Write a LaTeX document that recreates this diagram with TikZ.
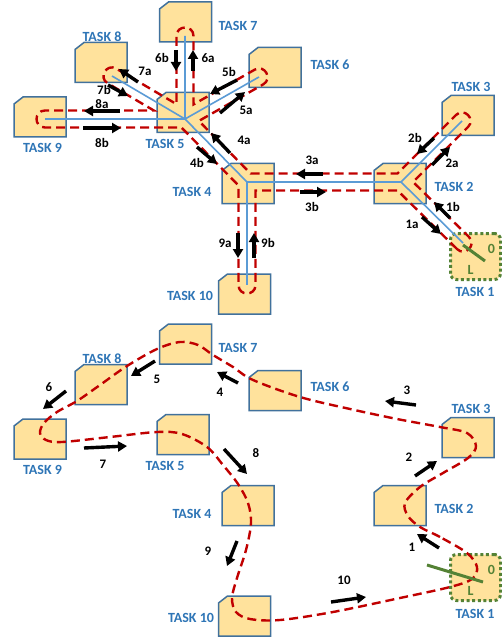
\documentclass[tikz,border=0pt]{standalone}
\usepackage{fontspec}
\setmainfont{Carlito}
\usetikzlibrary{calc,arrows.meta}
\definecolor{boxfill}{HTML}{FFE29C}
\definecolor{boxline}{HTML}{41719C}
\definecolor{lblue}{HTML}{2E75B6}
\definecolor{dred}{HTML}{C00000}
\definecolor{treeblue}{HTML}{5B9BD5}
\definecolor{sgreen}{HTML}{548235}
\def\rd{8.5pt}
\newcommand\taskbx[3]{%
  \node[tnode] (#1) at (#2,#3) {};
  \draw[tframe] ([yshift=-7pt]#1.north west) -- ([xshift=9pt]#1.north west) -- (#1.north east) -- (#1.south east) -- (#1.south west) -- cycle;}
\newcommand\mkoff[2]{%
  \coordinate (#1#2s) at ($(#1)!\rd!90:(#2)$);
  \coordinate (#1#2t) at ($(#2)!\rd!-90:(#1)$);}
\newcommand\mkcorner[3]{%
  \coordinate (c#1#2#3) at (intersection cs: first line={(#1#2s)--(#1#2t)}, second line={(#2#3s)--(#2#3t)});}
\newcommand\mkuturn[2]{%
  \coordinate (x#2) at ($(#2)!-11.3pt!(#1)$);
  \coordinate (u#2a) at ($(#1#2t)+(x#2)-(#2)$);
  \coordinate (u#2b) at ($(#2#1s)+(x#2)-(#2)$);}
\begin{document}
\begin{tikzpicture}[x=1pt,y=-1pt,
  tnode/.style={rectangle,minimum width=52pt,minimum height=40pt,inner sep=0pt,outer sep=0pt},
  tframe/.style={draw=boxline,fill=boxfill,line width=1.5pt,line join=miter},
  t1box/.style={rectangle,draw=sgreen,fill=boxfill,rounded corners=6pt,line width=3pt,dash pattern=on 3pt off 2.6pt,minimum width=50pt,minimum height=46pt,inner sep=0pt},
  tlabel/.style={text=lblue,font=\bfseries\fontsize{14}{14}\selectfont,inner sep=0pt},
  alabel/.style={text=black,font=\bfseries\fontsize{13}{13}\selectfont,inner sep=0pt},
  glabel/.style={text=sgreen,font=\bfseries\fontsize{14}{14}\selectfont,inner sep=0pt},
  redloop/.style={draw=dred,line width=2.4pt,dash pattern=on 9pt off 5pt},
  treeline/.style={draw=treeblue,line width=1.6pt},
  switchline/.style={draw=sgreen,line width=3pt},
  bigarrow/.style={draw=black,line width=3.4pt,-{Triangle[length=9pt,width=10pt]}}]
\useasboundingbox (0,0) rectangle (502,639);
% ---------------- top diagram ----------------
\taskbx{t7}{185.5}{22}
\taskbx{t8}{101}{62.5}
\taskbx{t9}{40}{117}
\taskbx{t5}{183}{112.5}
\taskbx{t6}{275}{67.5}
\taskbx{t4}{248}{183.5}
\taskbx{t2}{400}{183.5}
\taskbx{t3}{468}{115.5}
\taskbx{t10}{244.5}{294}
\node[t1box] (t1) at (475.5,256.5) {};
\node[tlabel] (lt7) at (238,26) {TASK 7};
\node[tlabel] (lt8) at (102,37) {TASK 8};
\node[tlabel] (lt9) at (42.5,148) {TASK 9};
\node[tlabel] (lt5) at (165,144) {TASK 5};
\node[tlabel] (lt6) at (330,64.5) {TASK 6};
\node[tlabel] (lt4) at (192,192) {TASK 4};
\node[tlabel] (lt2) at (454,186.5) {TASK 2};
\node[tlabel] (lt3) at (471,87) {TASK 3};
\node[tlabel] (lt10) at (190,296) {TASK 10};
\node[tlabel] (lt1) at (475,292) {TASK 1};
% tree
\coordinate (h5) at (185,119);
\coordinate (e9) at (45,119);
\coordinate (e8) at (112,76);
\coordinate (e7) at (185,36);
\coordinate (e6) at (259,77);
\coordinate (h4) at (247,182);
\coordinate (e10) at (247,285);
\coordinate (h2) at (401,182);
\coordinate (e3) at (462,121);
\coordinate (e1) at (463,243);
\mkoff{e1}{h2}\mkoff{h2}{h4}\mkoff{h4}{e10}\mkoff{e10}{h4}\mkoff{h4}{h5}
\mkoff{h5}{e9}\mkoff{e9}{h5}\mkoff{h5}{e8}\mkoff{e8}{h5}\mkoff{h5}{e7}
\mkoff{e7}{h5}\mkoff{h5}{e6}\mkoff{e6}{h5}\mkoff{h5}{h4}\mkoff{h4}{h2}
\mkoff{h2}{e3}\mkoff{e3}{h2}\mkoff{h2}{e1}
\mkcorner{e1}{h2}{h4}\mkcorner{h2}{h4}{e10}\mkcorner{e10}{h4}{h5}
\mkcorner{h4}{h5}{e9}\mkcorner{e9}{h5}{e8}\mkcorner{e8}{h5}{e7}
\mkcorner{e7}{h5}{e6}\mkcorner{e6}{h5}{h4}\mkcorner{h5}{h4}{h2}
\mkcorner{h4}{h2}{e3}\mkcorner{e3}{h2}{e1}
\mkuturn{h4}{e10}\mkuturn{h5}{e9}\mkuturn{h5}{e8}\mkuturn{h5}{e7}
\mkuturn{h5}{e6}\mkuturn{h2}{e3}\mkuturn{h2}{e1}
\draw[redloop] (e1h2s) -- (ce1h2h4) -- (ch2h4e10) -- (h4e10t)
  .. controls (ue10a) and (ue10b) .. (e10h4s) -- (ce10h4h5) -- (ch4h5e9) -- (h5e9t)
  .. controls (ue9a) and (ue9b) .. (e9h5s) -- (ce9h5e8) -- (h5e8t)
  .. controls (ue8a) and (ue8b) .. (e8h5s) -- (ce8h5e7) -- (h5e7t)
  .. controls (ue7a) and (ue7b) .. (e7h5s) -- (ce7h5e6) -- (h5e6t)
  .. controls (ue6a) and (ue6b) .. (e6h5s) -- (ce6h5h4) -- (ch5h4h2) -- (ch4h2e3) -- (h2e3t)
  .. controls (ue3a) and (ue3b) .. (e3h2s) -- (ce3h2e1) -- (h2e1t)
  .. controls (ue1a) and (ue1b) .. (e1h2s);
\draw[treeline] (e9) -- (h5) -- (e6);
\draw[treeline] (e8) -- (h5) -- (e7);
\draw[treeline] (h5) -- (h4) -- (h2) -- (e3);
\draw[treeline] (h4) -- (e10);
\draw[treeline] (h2) -- (e1);
\coordinate (sw1a) at (463,245);
\coordinate (sw1b) at (485,261);
\draw[switchline] (sw1a) -- (sw1b);
\node[glabel] (z1) at (491.5,249) {0};
\node[glabel] (l1) at (470.5,270) {L};
% arrows top
\draw[bigarrow] (176,50) -- (176,71);
\draw[bigarrow] (193,71) -- (193,50);
\draw[bigarrow] (138,82) -- (119,69);
\draw[bigarrow] (108,85) -- (128,96);
\draw[bigarrow] (120,111) -- (84,111);
\draw[bigarrow] (83,128) -- (121,128);
\draw[bigarrow] (237,80) -- (210,94);
\draw[bigarrow] (220,113) -- (245,92);
\draw[bigarrow] (230,153) -- (211,133);
\draw[bigarrow] (197,147) -- (217,164);
\draw[bigarrow] (323,174) -- (296,174);
\draw[bigarrow] (300,192) -- (326,192);
\draw[bigarrow] (434,138) -- (417,154);
\draw[bigarrow] (432,165) -- (450,147);
\draw[bigarrow] (450,218) -- (434,202);
\draw[bigarrow] (422,217) -- (441,234);
\draw[bigarrow] (238,233) -- (238,258);
\draw[bigarrow] (254,258) -- (254,233);
\node[alabel] (a6b) at (162,58) {6b};
\node[alabel] (a6a) at (208,58) {6a};
\node[alabel] (a7a) at (145,71) {7a};
\node[alabel] (a7b) at (104,90) {7b};
\node[alabel] (a8a) at (102,104) {8a};
\node[alabel] (a8b) at (102,143) {8b};
\node[alabel] (a5b) at (229,72) {5b};
\node[alabel] (a5a) at (246,110) {5a};
\node[alabel] (a4a) at (244,140) {4a};
\node[alabel] (a4b) at (197,163) {4b};
\node[alabel] (a3a) at (312,160) {3a};
\node[alabel] (a3b) at (312,207) {3b};
\node[alabel] (a2b) at (415,138) {2b};
\node[alabel] (a2a) at (452,163) {2a};
\node[alabel] (a1b) at (453,207) {1b};
\node[alabel] (a1a) at (412,224) {1a};
\node[alabel] (a9a) at (225,243) {9a};
\node[alabel] (a9b) at (268,243) {9b};
% ---------------- bottom diagram ----------------
\taskbx{b7}{185.5}{344}
\taskbx{b8}{101}{384.5}
\taskbx{b9}{40}{439}
\taskbx{b5}{183}{434.5}
\taskbx{b6}{275}{390.5}
\taskbx{b4}{248}{505.5}
\taskbx{b2}{400}{505.5}
\taskbx{b3}{468}{437.5}
\taskbx{b10}{244.5}{616}
\node[t1box] (b1) at (475.5,577.5) {};
\node[tlabel] (lb7) at (238,348) {TASK 7};
\node[tlabel] (lb8) at (102,359) {TASK 8};
\node[tlabel] (lb9) at (42.5,470) {TASK 9};
\node[tlabel] (lb5) at (165,466) {TASK 5};
\node[tlabel] (lb6) at (330,386.5) {TASK 6};
\node[tlabel] (lb4) at (192,514) {TASK 4};
\node[tlabel] (lb2) at (454,508.5) {TASK 2};
\node[tlabel] (lb3) at (471,409) {TASK 3};
\node[tlabel] (lb10) at (191,618) {TASK 10};
\node[tlabel] (lb1) at (475,614) {TASK 1};
\draw[redloop] plot[smooth cycle, tension=0.55] coordinates {
 (467,553) (440,537) (420,527) (408,516) (405,503) (420,487) (443,473) (468,458)
 (476,446) (467,433) (440,427) (397,419) (350,409) (300,397) (253,380) (233,367)
 (213,355) (198,345) (180,342) (157,349) (127,366) (100,385) (77,401) (57,412)
 (44,423) (40,433) (46,440) (62,442) (110,437) (157,432) (182,434) (207,447)
 (223,465) (238,484) (248,503) (251,523) (246,550) (237,578) (232,598) (236,612)
 (250,619) (280,620) (333,612) (400,598) (450,587) (472,579) (477,567)};
\coordinate (sw2a) at (427,565);
\coordinate (sw2b) at (483,582);
\draw[switchline] (sw2a) -- (sw2b);
\node[glabel] (z2) at (491.5,570) {0};
\node[glabel] (l2) at (470.5,591) {L};
\draw[bigarrow] (439,548) -- (417,534);
\draw[bigarrow] (415,476) -- (437,461);
\draw[bigarrow] (416,405) -- (385,401);
\draw[bigarrow] (238,383) -- (217,372);
\draw[bigarrow] (155,361) -- (131,376);
\draw[bigarrow] (66,391) -- (43,409);
\draw[bigarrow] (84,448) -- (127,446);
\draw[bigarrow] (224,449) -- (247,474);
\draw[bigarrow] (237,541) -- (227,566);
\draw[bigarrow] (331,602) -- (366,597);
\node[alabel] (n1) at (412,547) {1};
\node[alabel] (n2) at (409,457) {2};
\node[alabel] (n3) at (407,390) {3};
\node[alabel] (n4) at (220,392) {4};
\node[alabel] (n5) at (157,379) {5};
\node[alabel] (n6) at (49,387) {6};
\node[alabel] (n7) at (103,464) {7};
\node[alabel] (n8) at (256,453) {8};
\node[alabel] (n9) at (208,551) {9};
\node[alabel] (n10) at (344,580) {10};
\end{tikzpicture}
\end{document}
